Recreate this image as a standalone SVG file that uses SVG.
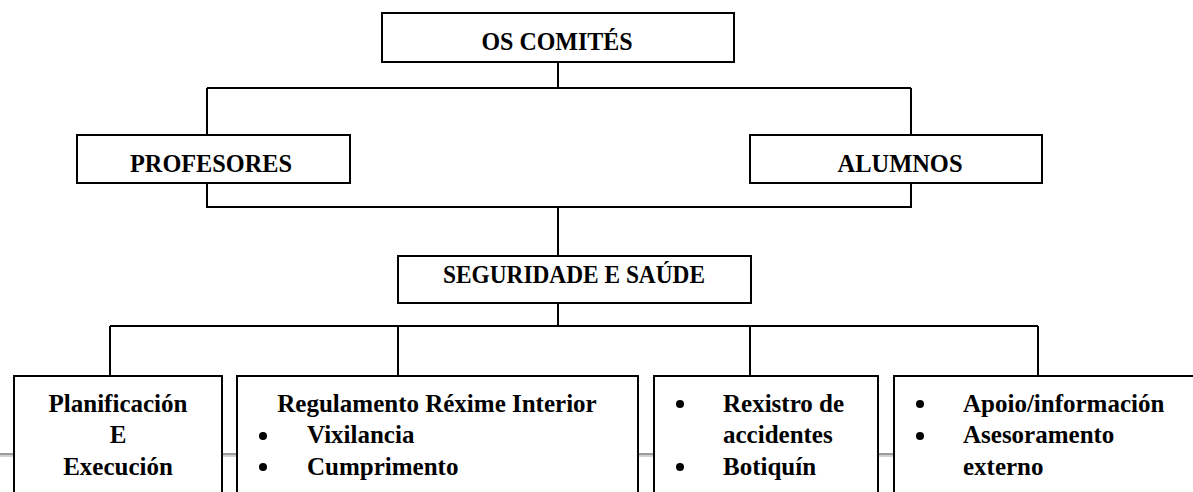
<svg xmlns="http://www.w3.org/2000/svg" width="1193" height="492" viewBox="0 0 1193 492">
<style>
.box{fill:#fff;stroke:#000;stroke-width:2}
.ln{fill:none;stroke:#000;stroke-width:2}
text{font-family:"Liberation Serif","Times New Roman",serif;font-weight:bold;font-size:25px;fill:#000}
.c{text-anchor:middle}
.h{font-size:26px}
</style>
<rect x="0" y="453" width="1193" height="2.5" fill="#9a9a9a"/>
<rect x="0" y="455.5" width="1193" height="1.5" fill="#d4d4cc"/>
<g id="connectors">
<path class="ln" d="M558 62V88M207 88H911M207 88V135M911 88V135"/>
<path class="ln" d="M207 183V207H911V183M558 207V256"/>
<path class="ln" d="M558 303V326M110 326H1038M110 326V376M398 326V376M750 326V376M1038 326V376"/>
</g>
<g id="n-comites">
<rect class="box" x="382" y="13" width="352" height="49"/>
<text class="c h" x="557" y="50" textLength="151" lengthAdjust="spacingAndGlyphs">OS COMITÉS</text>
</g>
<g id="n-profesores">
<rect class="box" x="77" y="135" width="273" height="48"/>
<text class="c h" x="211" y="172" textLength="162" lengthAdjust="spacingAndGlyphs">PROFESORES</text>
</g>
<g id="n-alumnos">
<rect class="box" x="750" y="135" width="292" height="48"/>
<text class="c h" x="900" y="172" textLength="125" lengthAdjust="spacingAndGlyphs">ALUMNOS</text>
</g>
<g id="n-seguridade">
<rect class="box" x="398" y="256" width="353" height="47"/>
<text class="c h" x="574" y="283" textLength="262" lengthAdjust="spacingAndGlyphs">SEGURIDADE E SAÚDE</text>
</g>
<g id="n-planificacion">
<rect class="box" x="14" y="376" width="208" height="130"/>
<text class="c" x="118" y="412">Planificación</text>
<text class="c" x="118" y="443">E</text>
<text class="c" x="118" y="475">Execución</text>
</g>
<g id="n-regulamento">
<rect class="box" x="237" y="376" width="401" height="130"/>
<text class="c" x="437" y="412">Regulamento Réxime Interior</text>
<circle cx="263" cy="436" r="4"/>
<text x="307" y="443">Vixilancia</text>
<circle cx="263" cy="467" r="4"/>
<text x="307" y="475">Cumprimento</text>
</g>
<g id="n-rexistro">
<rect class="box" x="654" y="376" width="224" height="130"/>
<circle cx="680" cy="404" r="4"/>
<text x="723" y="412">Rexistro de</text>
<text x="723" y="443">accidentes</text>
<circle cx="680" cy="467" r="4"/>
<text x="723" y="475">Botiquín</text>
</g>
<g id="n-apoio">
<rect class="box" x="894" y="376" width="310" height="130"/>
<circle cx="920" cy="404" r="4"/>
<text x="963" y="412">Apoio/información</text>
<circle cx="920" cy="436" r="4"/>
<text x="963" y="443">Asesoramento</text>
<text x="963" y="475">externo</text>
</g>
</svg>
